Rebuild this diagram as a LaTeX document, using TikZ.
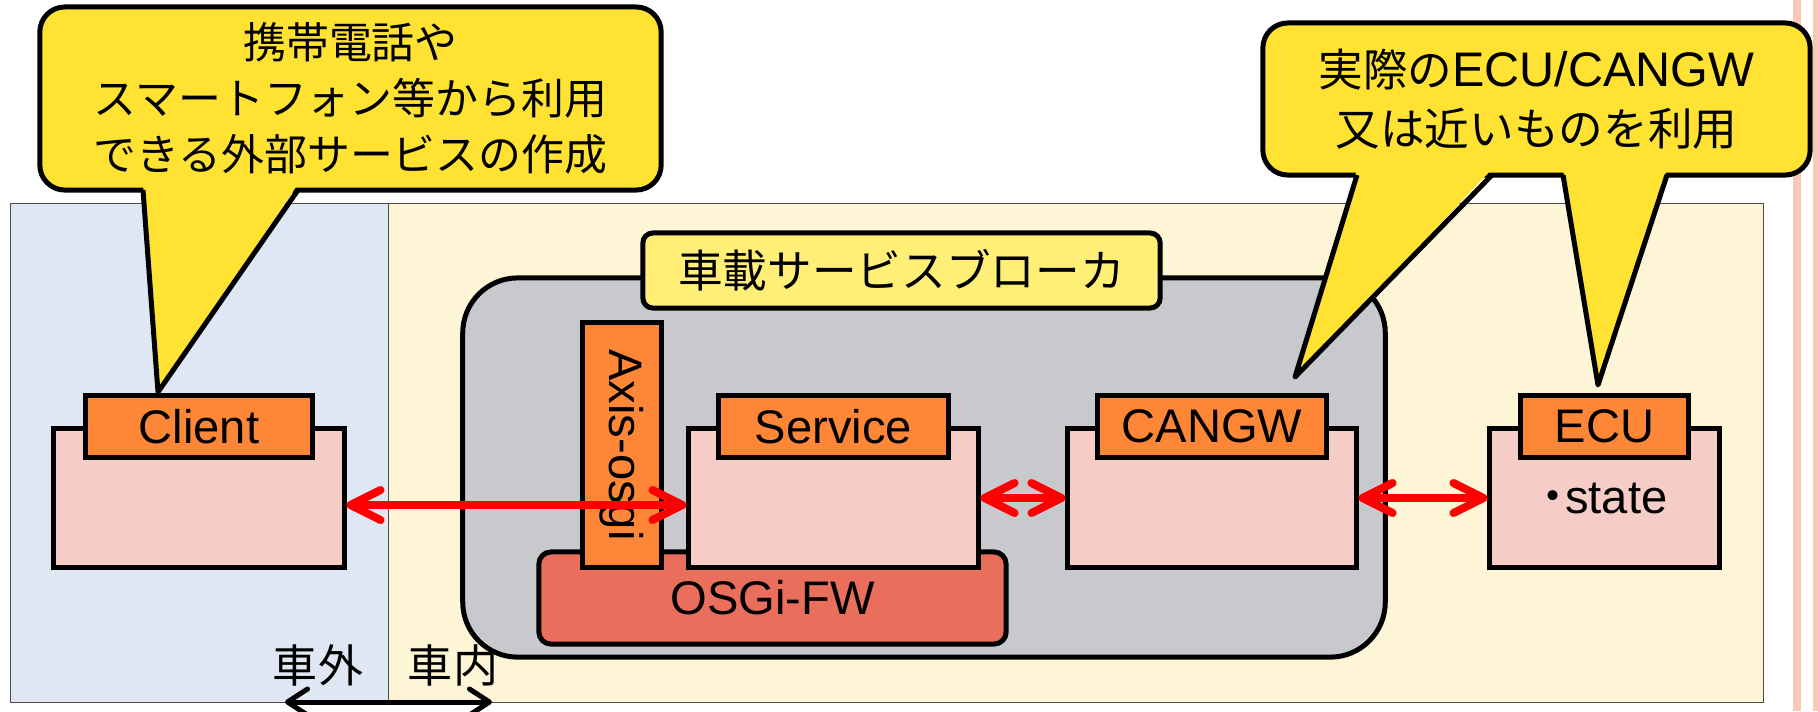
\documentclass[tikz,border=0pt]{standalone}
\usepackage{fontspec}
\setmainfont{Liberation Sans}
\newfontfamily\jp{Noto Sans CJK JP}
\newfontfamily\jpprop[RawFeature=+palt]{Noto Sans CJK JP}
\usetikzlibrary{calc, positioning}
\usetikzlibrary{arrows.meta}

\definecolor{outside}{RGB}{223,230,244}
\definecolor{inside}{RGB}{254,244,214}
\definecolor{brokergray}{RGB}{200,201,205}
\definecolor{calloutyellow}{RGB}{255,226,50}
\definecolor{tagyellow}{RGB}{255,239,119}
\definecolor{boxpink}{RGB}{246,205,198}
\definecolor{taborange}{RGB}{253,134,55}
\definecolor{fwred}{RGB}{234,110,92}
\definecolor{marginpink}{RGB}{252,200,182}

\tikzset{
  blackline/.style={draw=black, line width=0.05cm},
  latin/.style={font=\fontsize{13.4}{16}\selectfont},
  comp/.style={blackline, fill=boxpink, minimum height=1.38cm, inner sep=0pt, latin},
  tabbox/.style={blackline, fill=taborange, minimum height=0.62cm, inner sep=0pt, latin},
  link/.style={red, line width=0.08cm,
    {Straight Barb[length=0.3cm,width=0.3cm,round]}-{Straight Barb[length=0.3cm,width=0.3cm,round]}},
  bubble/.style={blackline, fill=calloutyellow, rounded corners=0.25cm, align=center, inner sep=0pt},
}

\begin{document}
\begin{tikzpicture}[x=0.01cm, y=-0.01cm]
\useasboundingbox (0,0) rectangle (1818,711);

\def\tailgap{6}

\coordinate (lt1) at (143,190);
\coordinate (lt2) at (298,190);
\coordinate (ltip) at (158,392);
\coordinate (rt1) at (1357,175);
\coordinate (rt2) at (1492,175);
\coordinate (rtip) at (1295,377);
\coordinate (rt3) at (1563,175);
\coordinate (rt4) at (1667,175);
\coordinate (etip) at (1598,385);
\coordinate (sideL) at (285,702);
\coordinate (sideR) at (492,702);

\draw[fill=outside, draw=black!70, line width=0.01cm] (10,203) rectangle (388,702);
\draw[fill=inside, draw=black!70, line width=0.01cm] (388,203) rectangle (1763,702);
\fill[marginpink] (1793,0) rectangle (1801,711);
\fill[marginpink] (1813,0) rectangle (1818,711);

\node (broker) [blackline, fill=brokergray, rounded corners=0.55cm,
  minimum width=9.22cm, minimum height=3.79cm] at (924,467.5) {};
\node (brokertag) [blackline, fill=tagyellow, rounded corners=0.1cm,
  minimum width=5.17cm, minimum height=0.75cm, inner sep=0pt,
  font=\jp\fontsize{12.7}{15}\selectfont] at (901.5,270.5) {車載サービスブローカ};

\node (osgifw) [blackline, fill=fwred, rounded corners=0.12cm,
  minimum width=4.67cm, minimum height=0.92cm, latin] at (772.5,598) {OSGi-FW};
\node (axis) [blackline, fill=taborange, rotate=-90, minimum width=2.44cm,
  minimum height=0.78cm, inner sep=0pt, latin] at (622,445) {Axis-osgi};

\node (client) [comp, minimum width=2.9cm] at (199,498) {};
\node (clienttab) [tabbox, minimum width=2.27cm] at (client.north) {Client};
\node (service) [comp, minimum width=2.89cm] at (833.5,498) {};
\node (servicetab) [tabbox, minimum width=2.29cm] at (service.north) {Service};
\node (cangw) [comp, minimum width=2.88cm] at (1212,498) {};
\node (cangwtab) [tabbox, minimum width=2.28cm] at (cangw.north) {CANGW};
\node (ecu) [comp, minimum width=2.29cm] at (1604.5,498) {{\jpprop ・}state};
\node (ecutab) [tabbox, minimum width=1.67cm] at (ecu.north) {ECU};

\draw[link] ([yshift=-0.07cm]client.east) -- ([yshift=-0.07cm]service.west);
\draw[link] (service.east) -- (cangw.west);
\draw[link] (cangw.east) -- (ecu.west);

\node (outlbl) [font=\jp\fontsize{12.8}{15}\selectfont] at (318,665) {車外};
\node (inlbl) [font=\jp\fontsize{12.8}{15}\selectfont] at (453,665) {車内};
\draw[line width=0.05cm,
  {Straight Barb[length=0.2cm,width=0.26cm,round]}-{Straight Barb[length=0.2cm,width=0.26cm,round]}]
  (sideL) -- (sideR);

\node (usenote) [bubble, minimum width=6.21cm, minimum height=1.83cm,
  font=\jp\fontsize{12.2}{15.9}\selectfont] at (350.5,98.5)
  {携帯電話や\\スマートフォン等から利用\\できる外部サービスの作成};
\fill[calloutyellow] ($(lt1)+(0,-\tailgap)$) -- (ltip) -- ($(lt2)+(0,-\tailgap)$) -- cycle;
\draw[blackline, line join=round] (lt1) -- (ltip) -- (lt2);

\node (realnote) [bubble, minimum width=5.47cm, minimum height=1.52cm,
  font=\fontsize{12.7}{16.8}\selectfont] at (1536.5,99)
  {{\jp 実際の}{\fontsize{13.8}{16.8}\selectfont ECU/CANGW}\\{\jp 又は近いものを利用}};
\fill[calloutyellow] ($(rt1)+(0,-\tailgap)$) -- (rtip) -- ($(rt2)+(0,-\tailgap)$) -- cycle;
\draw[blackline, line join=round] (rt1) -- (rtip) -- (rt2);
\fill[calloutyellow] ($(rt3)+(0,-\tailgap)$) -- (etip) -- ($(rt4)+(0,-\tailgap)$) -- cycle;
\draw[blackline, line join=round] (rt3) -- (etip) -- (rt4);
\end{tikzpicture}
\end{document}
